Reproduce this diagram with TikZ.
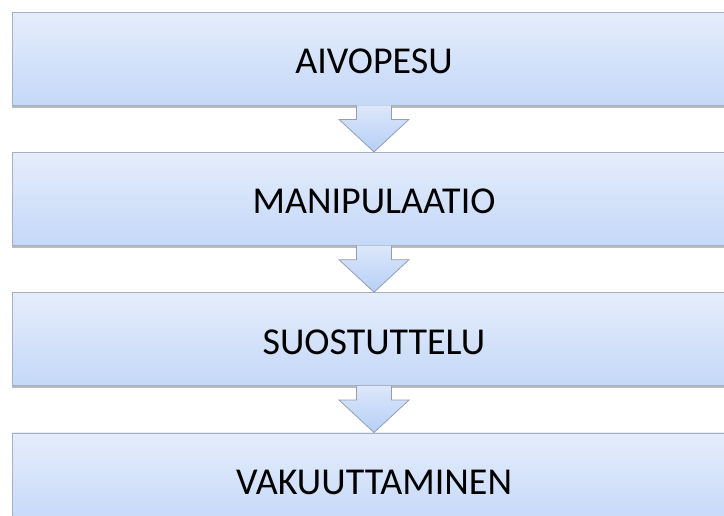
\documentclass[tikz,border=0pt]{standalone}
\usepackage{fontspec}
\setmainfont{Carlito}
\usetikzlibrary{positioning,calc,shadows}
\definecolor{boxtop}{HTML}{E5EDFB}
\definecolor{boxbot}{HTML}{C4D8F8}
\definecolor{boxline}{HTML}{A6B0C2}
\definecolor{arrtop}{HTML}{DCE7FA}
\definecolor{arrbot}{HTML}{B6CFF7}
\tikzset{
  stepblk/.style={draw=boxline,line width=0.8pt,rectangle,minimum width=724pt,minimum height=93pt,
    top color=boxtop,bottom color=boxbot,font=\fontsize{38}{42}\selectfont,inner sep=0pt,
    text height=30pt,text depth=0pt,
    drop shadow={shadow xshift=0pt,shadow yshift=-2.5pt,opacity=.45,fill=black!60}},
  flowarr/.style={draw=boxline!90!black,line width=0.8pt,top color=arrtop,bottom color=arrbot}
}
\begin{document}
\begin{tikzpicture}[x=1pt,y=1pt,node distance=46.5pt]
  \useasboundingbox (0,0) rectangle (724,-515);
  \fill[white] (0,0) rectangle (724,-515);

  % arrows first, boxes drawn over them
  \node[stepblk] (aivo) at (374,-58.5) {AIVOPESU};
  \node[stepblk, below=of aivo] (mani) {MANIPULAATIO};
  \node[stepblk, below=of mani] (suos) {SUOSTUTTELU};
  \node[stepblk, below=of suos] (vaku) {VAKUUTTAMINEN};

  \foreach \a/\b in {aivo/mani,mani/suos,suos/vaku}{
    \path[flowarr] ($(\a.south)+(-17.5,0)$) -- ($(\a.south)+(-17.5,-14)$) -- ($(\a.south)+(-35,-14)$)
      -- (\b.north) -- ($(\a.south)+(35,-14)$) -- ($(\a.south)+(17.5,-14)$) -- ($(\a.south)+(17.5,0)$);
  }
\end{tikzpicture}
\end{document}
